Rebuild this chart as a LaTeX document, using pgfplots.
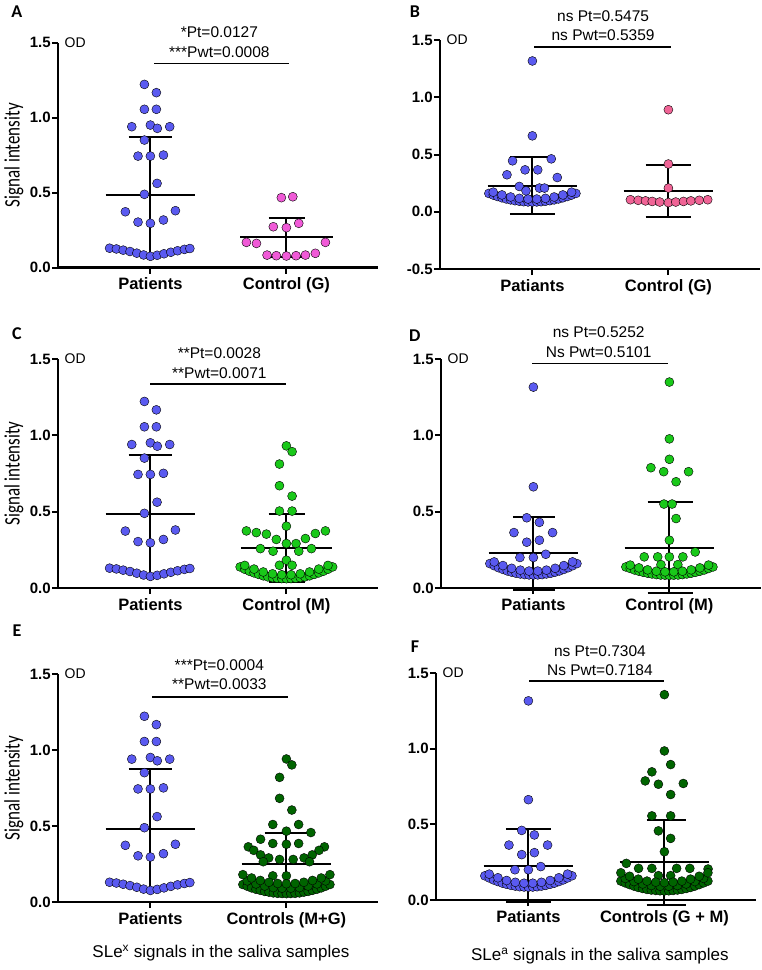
\documentclass[border=0pt]{standalone}
\usepackage{fontspec}
\setmainfont{Liberation Sans}
\newfontfamily\cali{Carlito}
\usepackage{pgfplots}
\usepackage{pgfplotstable}
\pgfplotsset{compat=1.18}

\definecolor{pblue}{RGB}{90,90,240}
\definecolor{pmag}{RGB}{240,90,215}
\definecolor{ppink}{RGB}{240,100,150}
\definecolor{pgreen}{RGB}{25,200,25}
\definecolor{pdkgreen}{RGB}{0,100,0}

\newcommand{\annfont}{\fontsize{15.5}{16}\selectfont}

\pgfplotsset{
  panel/.style={
    scale only axis, width=319.6pt,
    xmin=0.32, xmax=2.67,
    ymin=0, ymax=1.5,
    ytick={0,0.5,1,1.5}, yticklabels={0.0,0.5,1.0,1.5},
    xtick={1,2},
    axis lines=left,
    axis line style={-, line width=2.5pt, black},
    x axis line style={-}, y axis line style={-},
    tick align=outside,
    major tick length=6pt,
    tick style={line width=2pt, black},
    tick label style={font=\bfseries\fontsize{15}{15}\selectfont},
    yticklabel style={inner sep=1pt},
    xticklabel style={inner sep=0pt, yshift=-4pt, font=\bfseries\fontsize{16.5}{16.5}\selectfont},
    every axis y label/.style={at={(axis description cs:-0.1377,0.5)}, xscale=1.3, rotate=90, anchor=center,
      font=\cali\fontsize{17}{17}\selectfont},
    clip=false,
    anchor=south west,
  },
  dots/.style={only marks, mark=*, mark size=4.5pt, mark options={draw=none, fill=#1}},
  bar/.style={black, line width=2pt, mark=none, forget plot},
}

% SD bar: x, lower, upper, cap left, cap right
\newcommand{\sdbar}[5]{%
  \addplot[bar] coordinates {(#1,#2) (#1,#3)};
  \addplot[bar] coordinates {(#4,#2) (#5,#2)};
  \addplot[bar] coordinates {(#4,#3) (#5,#3)};
}
\newcommand{\od}{\node[anchor=west, inner sep=0pt, xshift=6.5pt, font=\fontsize{14}{14}\selectfont] at (rel axis cs:0,1) {OD};}

% SLe^x patients (A, C, E)
\pgfplotstableread{
dx y
-0.044 1.222
0.044 1.167
-0.044 1.056
0.044 1.056
-0.137 0.940
0.000 0.951
0.051 0.929
0.142 0.940
-0.044 0.851
-0.091 0.744
0.000 0.744
0.096 0.751
0.049 0.562
-0.044 0.489
-0.184 0.373
0.184 0.380
-0.091 0.304
0.000 0.296
0.096 0.318
-0.300 0.130
-0.250 0.125
-0.200 0.117
-0.150 0.108
-0.100 0.097
-0.050 0.085
0.000 0.076
0.050 0.083
0.100 0.093
0.150 0.103
0.200 0.113
0.250 0.122
0.290 0.128
}\slexpat

% SLe^a patients, low band (B, D, F)
\pgfplotstableread{
dx y
-0.320 0.160
-0.288 0.146
-0.256 0.133
-0.224 0.122
-0.192 0.112
-0.160 0.104
-0.128 0.097
-0.096 0.092
-0.064 0.088
-0.032 0.086
0.000 0.085
0.032 0.086
0.064 0.088
0.096 0.092
0.128 0.097
0.160 0.104
0.192 0.112
0.224 0.122
0.256 0.133
0.288 0.146
0.320 0.160
-0.288 0.171
-0.224 0.147
-0.160 0.129
-0.096 0.117
-0.032 0.111
0.032 0.111
0.096 0.117
0.160 0.129
0.224 0.147
0.288 0.171
}\sleaband

\pgfplotstableread{
dx y
0.000 1.317
0.000 0.663
-0.146 0.445
0.139 0.462
-0.187 0.323
-0.054 0.366
0.039 0.366
0.183 0.299
-0.096 0.221
-0.047 0.183
0.052 0.207
0.089 0.207
}\sleapatB

\pgfplotstableread{
dx y
0.000 1.316
0.000 0.663
-0.049 0.460
0.044 0.430
-0.143 0.363
0.141 0.363
-0.049 0.300
0.044 0.313
-0.099 0.200
0.000 0.200
0.091 0.221
}\sleapatDF

% Control (G), panel A
\pgfplotstableread{
dx y
-0.037 0.467
0.047 0.473
-0.096 0.273
0.000 0.267
0.091 0.296
-0.294 0.169
-0.220 0.162
0.287 0.169
-0.142 0.084
-0.074 0.080
0.000 0.078
0.071 0.080
0.140 0.084
0.213 0.096
}\ctrlGa

% Control (G), panel B
\pgfplotstableread{
dx y
0.000 0.891
0.000 0.417
0.000 0.207
-0.279 0.105
-0.222 0.100
-0.168 0.095
-0.119 0.090
-0.064 0.085
0.000 0.080
0.054 0.085
0.111 0.090
0.165 0.095
0.227 0.100
0.289 0.105
}\ctrlGb

% Control (M), panel C
\pgfplotstableread{
dx y
0.000 0.931
0.042 0.893
-0.051 0.812
-0.051 0.670
0.042 0.602
-0.051 0.504
0.042 0.504
0.000 0.405
-0.294 0.374
-0.221 0.363
-0.147 0.353
-0.074 0.318
0.000 0.291
0.071 0.291
0.140 0.324
0.213 0.357
0.287 0.374
-0.191 0.258
-0.098 0.241
0.091 0.241
0.184 0.258
-0.051 0.149
0.000 0.182
0.042 0.149
-0.340 0.138
-0.306 0.123
-0.272 0.110
-0.238 0.099
-0.204 0.089
-0.170 0.080
-0.136 0.073
-0.102 0.068
-0.068 0.064
-0.034 0.062
0.000 0.061
0.034 0.062
0.068 0.064
0.102 0.068
0.136 0.073
0.170 0.080
0.204 0.089
0.238 0.099
0.272 0.110
0.306 0.123
0.340 0.138
-0.306 0.148
-0.238 0.124
-0.170 0.105
-0.102 0.093
-0.034 0.087
0.034 0.087
0.102 0.093
0.170 0.105
0.238 0.124
0.306 0.148
}\ctrlMc

% Control (M), panel D
\pgfplotstableread{
dx y
0.000 1.349
0.000 0.977
0.000 0.843
-0.136 0.788
-0.042 0.762
0.141 0.762
0.049 0.696
-0.040 0.550
0.020 0.550
0.049 0.455
0.000 0.313
-0.185 0.204
-0.086 0.204
0.000 0.204
0.099 0.204
0.190 0.236
-0.062 0.153
0.062 0.153
-0.320 0.138
-0.288 0.128
-0.256 0.118
-0.224 0.110
-0.192 0.103
-0.160 0.097
-0.128 0.092
-0.096 0.088
-0.064 0.085
-0.032 0.084
0.000 0.083
0.032 0.084
0.064 0.085
0.096 0.088
0.128 0.092
0.160 0.097
0.192 0.103
0.224 0.110
0.256 0.118
0.288 0.128
0.320 0.138
-0.288 0.150
-0.224 0.132
-0.160 0.119
-0.096 0.110
-0.032 0.106
0.032 0.106
0.096 0.110
0.160 0.119
0.224 0.132
0.288 0.150
}\ctrlMd

% Controls (M+G), panel E
\pgfplotstableread{
dx y
0.000 0.941
0.040 0.902
-0.050 0.820
-0.050 0.682
0.040 0.605
-0.100 0.510
0.090 0.510
0.000 0.466
0.180 0.457
-0.190 0.413
-0.100 0.385
0.000 0.380
0.090 0.385
-0.280 0.363
0.280 0.363
-0.240 0.340
0.240 0.340
-0.190 0.310
-0.130 0.290
-0.050 0.280
0.050 0.280
0.130 0.290
0.190 0.310
-0.170 0.265
0.170 0.265
-0.100 0.172
0.000 0.172
-0.320 0.115
-0.288 0.104
-0.256 0.093
-0.224 0.084
-0.192 0.077
-0.160 0.070
-0.128 0.065
-0.096 0.060
-0.064 0.057
-0.032 0.056
0.000 0.055
0.032 0.056
0.064 0.057
0.096 0.060
0.128 0.065
0.160 0.070
0.192 0.077
0.224 0.084
0.256 0.093
0.288 0.104
0.320 0.115
-0.288 0.139
-0.224 0.119
-0.160 0.105
-0.096 0.095
-0.032 0.091
0.032 0.091
0.096 0.095
0.160 0.105
0.224 0.119
0.288 0.139
-0.320 0.180
-0.256 0.158
-0.192 0.142
-0.128 0.130
-0.064 0.122
0.000 0.120
0.064 0.122
0.128 0.130
0.192 0.142
0.256 0.158
0.320 0.180
}\ctrlMGe

% Controls (G+M), panel F
\pgfplotstableread{
dx y
0.000 1.357
0.000 0.985
0.046 0.895
-0.092 0.847
-0.141 0.787
-0.044 0.765
0.139 0.770
0.046 0.697
-0.092 0.556
0.046 0.556
-0.044 0.457
0.046 0.407
0.000 0.319
-0.280 0.242
-0.190 0.209
-0.092 0.209
0.090 0.209
0.187 0.209
0.321 0.205
-0.044 0.161
0.046 0.161
-0.320 0.125
-0.288 0.113
-0.256 0.102
-0.224 0.092
-0.192 0.083
-0.160 0.076
-0.128 0.070
-0.096 0.066
-0.064 0.063
-0.032 0.061
0.000 0.060
0.032 0.061
0.064 0.063
0.096 0.066
0.128 0.070
0.160 0.076
0.192 0.083
0.224 0.092
0.256 0.102
0.288 0.113
0.320 0.125
-0.288 0.143
-0.224 0.122
-0.160 0.106
-0.096 0.096
-0.032 0.091
0.032 0.091
0.096 0.096
0.160 0.106
0.224 0.122
0.288 0.143
-0.320 0.180
-0.256 0.157
-0.192 0.138
-0.128 0.125
-0.064 0.118
0.000 0.115
0.064 0.118
0.128 0.125
0.192 0.138
0.256 0.157
0.320 0.180
}\ctrlGMf

\begin{document}
\begin{tikzpicture}
\path (0,0) rectangle (759pt,-970pt);

% ---------- A
\begin{axis}[panel, height=225pt, at={(55pt,-267.7pt)},
    ylabel={Signal intensity}, xticklabels={Patients,Control (G)}]
  \sdbar{1}{0.092}{0.872}{0.84}{1.16}
  \addplot[bar] coordinates {(0.67,0.482) (1.33,0.482)};
  \sdbar{2}{0.071}{0.333}{1.87}{2.14}
  \addplot[bar] coordinates {(1.66,0.202) (2.34,0.202)};
  \addplot[dots=pblue] table[x expr=\thisrow{dx}+1, y=y] {\slexpat};
  \addplot[dots=pmag] table[x expr=\thisrow{dx}+2, y=y] {\ctrlGa};
  \addplot[black, line width=1.2pt] coordinates {(1.03,1.363) (2.02,1.363)};
  \node[font=\annfont] at (axis cs:1.507,1.573) {*Pt=0.0127};
  \node[font=\annfont] at (axis cs:1.507,1.440) {***Pwt=0.0008};
  \od
\end{axis}

% ---------- B
\begin{axis}[panel, height=229pt, at={(437pt,-269pt)}, ymin=-0.5,
    ytick={-0.5,0,0.5,1,1.5}, yticklabels={-0.5,0.0,0.5,1.0,1.5},
    xticklabels={Patiants,Control (G)}]
  \sdbar{1}{-0.021}{0.475}{0.835}{1.165}
  \addplot[bar] coordinates {(0.67,0.227) (1.33,0.227)};
  \sdbar{2}{-0.049}{0.405}{1.833}{2.167}
  \addplot[bar] coordinates {(1.67,0.178) (2.33,0.178)};
  \addplot[dots=pblue] table[x expr=\thisrow{dx}+1, y=y] {\sleaband};
  \addplot[dots=pblue] table[x expr=\thisrow{dx}+1, y=y] {\sleapatB};
  \addplot[dots=ppink] table[x expr=\thisrow{dx}+2, y=y] {\ctrlGb};
  \addplot[black, line width=1.2pt] coordinates {(1.015,1.439) (2.022,1.439)};
  \node[font=\annfont] at (axis cs:1.52,1.709) {ns Pt=0.5475};
  \node[font=\annfont] at (axis cs:1.52,1.544) {ns Pwt=0.5359};
  \od
\end{axis}

% ---------- C
\begin{axis}[panel, height=229pt, at={(55pt,-588pt)},
    ylabel={Signal intensity}, xticklabels={Patients,Control (M)}]
  \sdbar{1}{0.092}{0.872}{0.84}{1.16}
  \addplot[bar] coordinates {(0.67,0.482) (1.33,0.482)};
  \sdbar{2}{0.038}{0.488}{1.87}{2.14}
  \addplot[bar] coordinates {(1.665,0.263) (2.335,0.263)};
  \addplot[dots=pblue] table[x expr=\thisrow{dx}+1, y=y] {\slexpat};
  \addplot[dots=pgreen] table[x expr=\thisrow{dx}+2, y=y] {\ctrlMc};
  \addplot[black, line width=1.2pt] coordinates {(1.0,1.336) (2.0,1.336)};
  \node[font=\annfont] at (axis cs:1.507,1.539) {**Pt=0.0028};
  \node[font=\annfont] at (axis cs:1.507,1.408) {**Pwt=0.0071};
  \od
\end{axis}

% ---------- D
\begin{axis}[panel, height=229pt, at={(438pt,-588pt)},
    xticklabels={Patiants,Control (M)}]
  \sdbar{1}{-0.015}{0.468}{0.85}{1.16}
  \addplot[bar] coordinates {(0.67,0.227) (1.33,0.227)};
  \sdbar{2}{-0.031}{0.561}{1.84}{2.17}
  \addplot[bar] coordinates {(1.67,0.265) (2.33,0.265)};
  \addplot[dots=pblue] table[x expr=\thisrow{dx}+1, y=y] {\sleaband};
  \addplot[dots=pblue] table[x expr=\thisrow{dx}+1, y=y] {\sleapatDF};
  \addplot[dots=pgreen] table[x expr=\thisrow{dx}+2, y=y] {\ctrlMd};
  \addplot[black, line width=1.2pt] coordinates {(0.993,1.473) (1.993,1.473)};
  \node[font=\annfont] at (axis cs:1.48,1.676) {ns Pt=0.5252};
  \node[font=\annfont] at (axis cs:1.48,1.546) {Ns Pwt=0.5101};
  \od
\end{axis}

% ---------- E
\begin{axis}[panel, height=228pt, at={(55pt,-902pt)},
    ylabel={Signal intensity}, xticklabels={Patients,Controls (M+G)}]
  \sdbar{1}{0.092}{0.872}{0.84}{1.16}
  \addplot[bar] coordinates {(0.67,0.482) (1.33,0.482)};
  \sdbar{2}{0.049}{0.457}{1.84}{2.155}
  \addplot[bar] coordinates {(1.67,0.253) (2.33,0.253)};
  \addplot[dots=pblue] table[x expr=\thisrow{dx}+1, y=y] {\slexpat};
  \addplot[dots=pdkgreen] table[x expr=\thisrow{dx}+2, y=y] {\ctrlMGe};
  \addplot[black, line width=1.2pt] coordinates {(1.015,1.349) (2.015,1.349)};
  \node[font=\annfont] at (axis cs:1.507,1.559) {***Pt=0.0004};
  \node[font=\annfont] at (axis cs:1.507,1.434) {**Pwt=0.0033};
  \od
\end{axis}

% ---------- F
\begin{axis}[panel, height=227pt, at={(433pt,-900pt)},
    xticklabels={Patiants,Controls (G + M)}]
  \sdbar{1}{-0.014}{0.468}{0.835}{1.165}
  \addplot[bar] coordinates {(0.67,0.227) (1.33,0.227)};
  \sdbar{2}{-0.030}{0.528}{1.87}{2.16}
  \addplot[bar] coordinates {(1.67,0.249) (2.33,0.249)};
  \addplot[dots=pblue] table[x expr=\thisrow{dx}+1, y=y] {\sleaband};
  \addplot[dots=pblue] table[x expr=\thisrow{dx}+1, y=y] {\sleapatDF};
  \addplot[dots=pdkgreen] table[x expr=\thisrow{dx}+2, y=y] {\ctrlGMf};
  \addplot[black, line width=1.2pt] coordinates {(1.007,1.447) (2.0,1.447)};
  \node[font=\annfont] at (axis cs:1.526,1.646) {ns Pt=0.7304};
  \node[font=\annfont] at (axis cs:1.526,1.520) {Ns Pwt=0.7184};
  \od
\end{axis}

% panel letters and captions
\begin{scope}[every node/.style={font=\cali\bfseries\fontsize{18}{18}\selectfont}]
  \node at (14pt,-12pt) {A};
  \node at (412pt,-12pt) {B};
  \node at (14pt,-334pt) {C};
  \node at (412pt,-336pt) {D};
  \node at (14pt,-631pt) {E};
  \node at (412pt,-647pt) {F};
\end{scope}
\node[font=\fontsize{17}{17}\selectfont] at (218pt,-953pt) {SLe\textsuperscript{x} signals in the saliva samples};
\node[font=\fontsize{17}{17}\selectfont] at (597pt,-956pt) {SLe\textsuperscript{a} signals in the saliva samples};
\end{tikzpicture}
\end{document}
